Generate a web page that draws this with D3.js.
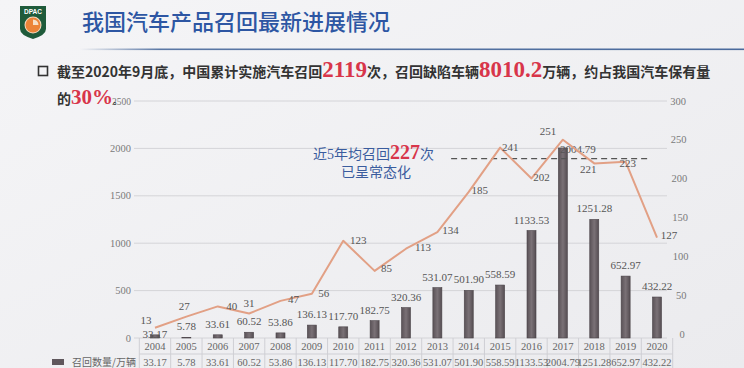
<!DOCTYPE html>
<html><head><meta charset="utf-8">
<script src="https://cdn.jsdelivr.net/npm/d3@7"></script>
<style>body{margin:0;background:#f1f1f3}svg{display:block}</style>
</head><body>
<script>
const years = ["2004","2005","2006","2007","2008","2009","2010","2011","2012","2013","2014","2015","2016","2017","2018","2019","2020"];
const recallVolume = [33.17,5.78,33.61,60.52,53.86,136.13,117.70,182.75,320.36,531.07,501.90,558.59,1133.53,2004.79,1251.28,652.97,432.22];
const recallCount = [13,27,40,31,47,56,123,85,113,134,185,241,202,251,221,223,127];
const leftTicks = [0,500,1000,1500,2000,2500];
const rightTicks = [0,50,100,150,200,250,300];
const avgRecent = 227;
const avgFrom = "2015", avgTo = "2020";
const legendLabel = "召回数量/万辆";
const titleText = "我国汽车产品召回最新进展情况";

// layout-only label nudges (dx, dy) for the line labels
const lineLabelNudge = [[-9,-4],[-2,-7],[14,4],[0,-7],[13,2],[12,3],[15,3],[12,1],[17,2],[13,2],[11,2],[10,3],[10,3],[-15,-5],[-6,10],[2,5],[12,1]];

const W = 744, H = 368;
const svg = d3.select("body").append("svg").attr("width", W).attr("height", H);
const defs = svg.append("defs");
const bg = defs.append("linearGradient").attr("id","bg").attr("x1",0).attr("y1",0).attr("x2",1).attr("y2",1);
bg.append("stop").attr("offset","0").attr("stop-color","#f5f5f7");
bg.append("stop").attr("offset","1").attr("stop-color","#ebebee");
svg.append("rect").attr("width",W).attr("height",H).attr("fill","url(#bg)");

const ul = defs.append("linearGradient").attr("id","ul");
ul.append("stop").attr("offset","0").attr("stop-color","#4a6a9c").attr("stop-opacity",0);
ul.append("stop").attr("offset","0.12").attr("stop-color","#4a6a9c").attr("stop-opacity",0.9);
ul.append("stop").attr("offset","1").attr("stop-color","#4a6a9c").attr("stop-opacity",1);

// logo
const logo = svg.append("g");
logo.append("path").attr("d","M20,6 H46 V29 Q46,35 33,39 Q20,35 20,29 Z").attr("fill","#1f5b3b");
logo.append("text").attr("x",33).attr("y",14).attr("text-anchor","middle")
  .attr("font-family","Liberation Sans, Arial").attr("font-weight","bold").attr("font-size",6.5).attr("fill","#fff").text("DPAC");
logo.append("circle").attr("cx",33).attr("cy",25).attr("r",8.5).attr("fill","#f3d9c0");
logo.append("circle").attr("cx",33).attr("cy",25).attr("r",7.5).attr("fill","#ec8438");
logo.append("path").attr("d","M33,19.5 A5.5,5.5 0 0 1 38.5,25 L33,25 Z").attr("fill","#f6e0c8");

// title
svg.append("text").attr("x",82).attr("y",30)
  .attr("font-family","Noto Sans CJK SC").attr("font-size",22).attr("font-weight",500).attr("fill","#2d56a3").text(titleText);
svg.append("rect").attr("x",80).attr("y",48.5).attr("width",664).attr("height",1.6).attr("fill","url(#ul)");

// subtitle text
svg.append("rect").attr("x",38.5).attr("y",66.5).attr("width",9).attr("height",9)
  .attr("fill","none").attr("stroke","#333").attr("stroke-width",1.6);
const t1 = svg.append("text").attr("x",57).attr("y",77)
  .attr("font-family","Noto Sans CJK SC").attr("font-size",14).attr("font-weight","bold").attr("fill","#333");
const red = "#d8354a";
function seg(t, s, isRed, size){
  const ts = t.append("tspan").text(s);
  if(isRed) ts.attr("fill",red).attr("font-family","Liberation Serif").attr("font-size",size||23).attr("font-weight","bold");
  return ts;
}
seg(t1,"截至2020年9月底，中国累计实施汽车召回");
seg(t1,"2119",true);
seg(t1,"次，召回缺陷车辆");
seg(t1,"8010.2",true);
seg(t1,"万辆，约占我国汽车保有量");

// axes geometry
const x = d3.scaleBand().domain(years).range([139.3, 672.7]).padding(0);
const cx = d => x(d) + x.bandwidth()/2;
const yL = d3.scaleLinear().domain([0,2500]).range([338,101]);
const yR = d3.scaleLinear().domain([0,300]).range([338,101]);

// gridlines
svg.append("g").selectAll("line").data(leftTicks).join("line")
  .attr("x1",134).attr("x2",667).attr("y1",d=>yL(d)).attr("y2",d=>yL(d))
  .attr("stroke","#d4d4d8").attr("stroke-width",1);

const serif = "Liberation Serif";
svg.append("g").selectAll("text").data(leftTicks).join("text")
  .attr("x",131).attr("y",d=>yL(d)+3.5).attr("text-anchor","end")
  .attr("font-family",serif).attr("font-size",d=>d===2500?9.5:10.5).attr("fill","#7a7a7a").text(d=>d);
svg.append("g").selectAll("text").data(rightTicks).join("text")
  .attr("x",d=> 678 + (300-d)/300*4).attr("y",d=>yR(d)+3.5 - (300-d)/300*4).attr("text-anchor","middle")
  .attr("font-family",serif).attr("font-size",10.5).attr("fill","#7a7a7a").text(d=>d);

// line 2 text (drawn above gridline)
const t2 = svg.append("text").attr("x",57).attr("y",104)
  .attr("font-family","Noto Sans CJK SC").attr("font-size",14).attr("font-weight","bold").attr("fill","#333");
seg(t2,"的");
seg(t2,"30%",true,21);
seg(t2,"。").attr("font-size",9);

// bars
const bw = 9;
const barGrad = defs.append("linearGradient").attr("id","bar");
barGrad.append("stop").attr("offset","0").attr("stop-color","#5a5257");
barGrad.append("stop").attr("offset","0.5").attr("stop-color","#7a7176");
barGrad.append("stop").attr("offset","1").attr("stop-color","#554d52");
svg.append("g").selectAll("rect").data(years).join("rect")
  .attr("x",d=>cx(d)-bw/2).attr("width",bw)
  .attr("y",(d,i)=>yL(recallVolume[i])).attr("height",(d,i)=>yL(0)-yL(recallVolume[i]))
  .attr("fill","url(#bar)").attr("stroke","#4a4348").attr("stroke-width",0.6);

const fmt = d3.format(".2f");
svg.append("g").selectAll("text").data(years).join("text")
  .attr("x",(d,i)=> cx(d) + (d==="2017"?15:0))
  .attr("y",(d,i)=> d==="2004" ? yL(0) : d==="2017" ? yL(recallVolume[i])+5.5 : yL(recallVolume[i])-7)
  .attr("text-anchor","middle")
  .attr("font-family",serif).attr("font-size",11).attr("fill","#555").text((d,i)=>fmt(recallVolume[i]));

// average dashed line
svg.append("line").attr("x1",cx(avgFrom)-49).attr("x2",cx(avgTo)-6)
  .attr("y1",yR(avgRecent)).attr("y2",yR(avgRecent))
  .attr("stroke","#555").attr("stroke-width",1.4).attr("stroke-dasharray","6,4");

// line series
const line = d3.line().x((d,i)=>cx(years[i])).y(d=>yR(d));
svg.append("path").datum(recallCount).attr("d",line)
  .attr("fill","none").attr("stroke","#e2a085").attr("stroke-width",2).attr("stroke-linejoin","round");
svg.append("g").selectAll("text").data(recallCount).join("text")
  .attr("x",(d,i)=>cx(years[i])+lineLabelNudge[i][0]).attr("y",(d,i)=>yR(d)+lineLabelNudge[i][1])
  .attr("text-anchor","middle")
  .attr("font-family",serif).attr("font-size",11).attr("fill","#555").text(d=>d);

// annotation
const a1 = svg.append("text").attr("x",313).attr("y",159)
  .attr("font-family","Noto Sans CJK SC").attr("font-size",14).attr("fill","#3a5c9e");
a1.append("tspan").text("近");
a1.append("tspan").attr("font-family",serif).text("5");
a1.append("tspan").text("年均召回");
a1.append("tspan").attr("fill",red).attr("font-family",serif).attr("font-weight","bold").attr("font-size",20).text(avgRecent);
a1.append("tspan").text("次");
svg.append("text").attr("x",376).attr("y",177).attr("text-anchor","middle")
  .attr("font-family","Noto Sans CJK SC").attr("font-size",14).attr("fill","#3a5c9e").text("已呈常态化");

// data table
const r0 = 338, r1 = 354, r2 = 371;
const tbl = svg.append("g").attr("stroke","#cfcfd4").attr("stroke-width",1);
tbl.append("line").attr("x1",139.3).attr("x2",672.7).attr("y1",r1).attr("y2",r1);
tbl.append("line").attr("x1",45).attr("x2",672.7).attr("y1",r2).attr("y2",r2);
tbl.append("line").attr("x1",139.3).attr("x2",139.3).attr("y1",r0).attr("y2",H);
tbl.selectAll(".v").data(years).join("line")
  .attr("x1",d=>x(d)+x.bandwidth()).attr("x2",d=>x(d)+x.bandwidth()).attr("y1",r0).attr("y2",H);

svg.append("g").selectAll("text").data(years).join("text")
  .attr("x",d=>cx(d)).attr("y",r0+11.5).attr("text-anchor","middle")
  .attr("font-family",serif).attr("font-size",10.5).attr("fill","#666").text(d=>d);
svg.append("g").selectAll("text").data(years).join("text")
  .attr("x",d=>cx(d)).attr("y",r1+12).attr("text-anchor","middle")
  .attr("font-family",serif).attr("font-size",10.5).attr("fill","#666").text((d,i)=>fmt(recallVolume[i]));

svg.append("rect").attr("x",52).attr("y",359).attr("width",12).attr("height",6).attr("fill","#5f575c");
svg.append("text").attr("x",72).attr("y",366)
  .attr("font-family","Noto Sans CJK SC").attr("font-size",10).attr("fill","#666").text(legendLabel);
</script>
</body></html>
